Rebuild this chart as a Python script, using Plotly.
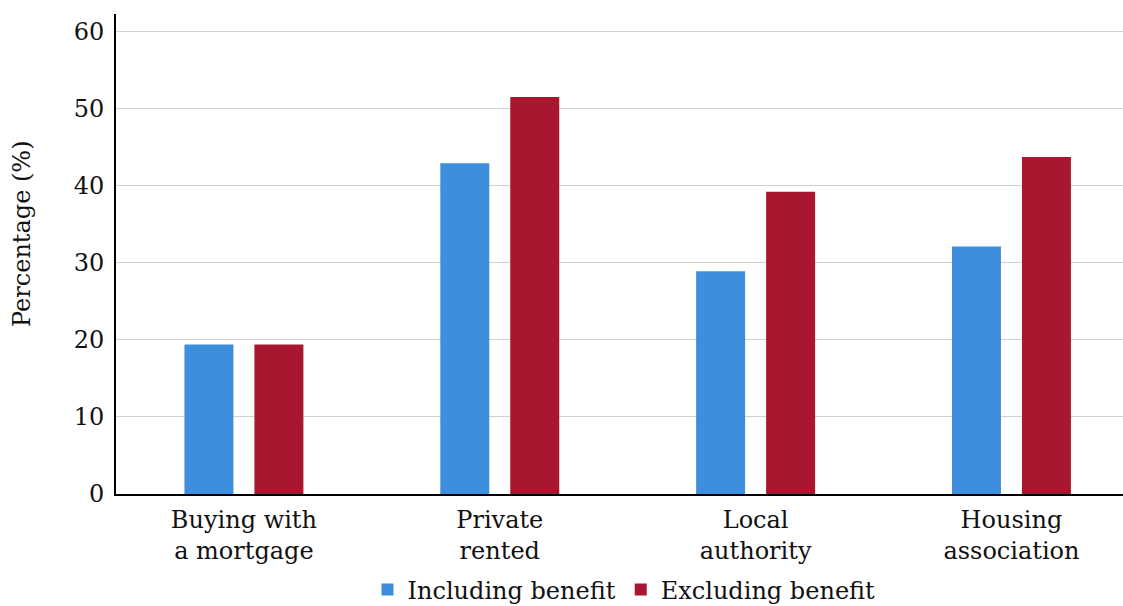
import plotly.graph_objects as go

categories = ["Buying with<br>a mortgage", "Private<br>rented", "Local<br>authority", "Housing<br>association"]
including_benefit = [19.4, 42.9, 28.9, 32.1]
excluding_benefit = [19.4, 51.5, 39.2, 43.7]
y_ticks = [0, 10, 20, 30, 40, 50, 60]

FONT = "DejaVu Serif"
W, H = 1123, 606
ML, MR, MT, MB = 116, 0, 14, 112

fig = go.Figure()
fig.add_trace(go.Bar(name="Including benefit", x=categories, y=including_benefit,
                     marker=dict(color="#3d8edd", line=dict(width=0))))
fig.add_trace(go.Bar(name="Excluding benefit", x=categories, y=excluding_benefit,
                     marker=dict(color="#a9162f", line=dict(width=0))))

plot_w = W - ML - MR
plot_h = H - MT - MB

fig.update_layout(
    width=W, height=H,
    margin=dict(l=ML, r=MR, t=MT, b=MB, autoexpand=False),
    paper_bgcolor="white", plot_bgcolor="white",
    barmode="group", bargap=0.453, bargroupgap=0.3,
    font=dict(family=FONT, size=24, color="#111111"),
    showlegend=True,
    legend=dict(orientation="h", x=(624 - ML) / plot_w, xanchor="center",
                y=(H - MB - 590) / plot_h, yanchor="middle",
                font=dict(family=FONT, size=24, color="#111111"),
                bgcolor="rgba(0,0,0,0)", itemclick=False),
    xaxis=dict(type="category", range=[-0.5, 3.436], showline=True, linecolor="black",
               linewidth=2, showgrid=False, ticks="outside", ticklen=3,
               tickcolor="rgba(0,0,0,0)", tickfont=dict(family=FONT, size=24, color="#111111"),
               fixedrange=True),
    yaxis=dict(range=[0, 62.25], tickvals=y_ticks, ticktext=[str(v) for v in y_ticks],
               showline=True, linecolor="black", linewidth=2, showgrid=True,
               gridcolor="#d0d0d0", gridwidth=1, zeroline=False,
               ticks="outside", ticklen=5, tickcolor="rgba(0,0,0,0)",
               tickfont=dict(family=FONT, size=24, color="#111111"), fixedrange=True),
    annotations=[dict(text="Percentage (%)", textangle=-90, xref="paper", yref="paper",
                      x=(22 - ML) / plot_w, y=(H - MB - 234) / plot_h,
                      xanchor="center", yanchor="middle", showarrow=False,
                      font=dict(family=FONT, size=24, color="#111111"))],
)

fig.write_html("out.html", config={"displayModeBar": False},
               post_script="document.body.style.margin='0';document.body.style.overflow='hidden';")
